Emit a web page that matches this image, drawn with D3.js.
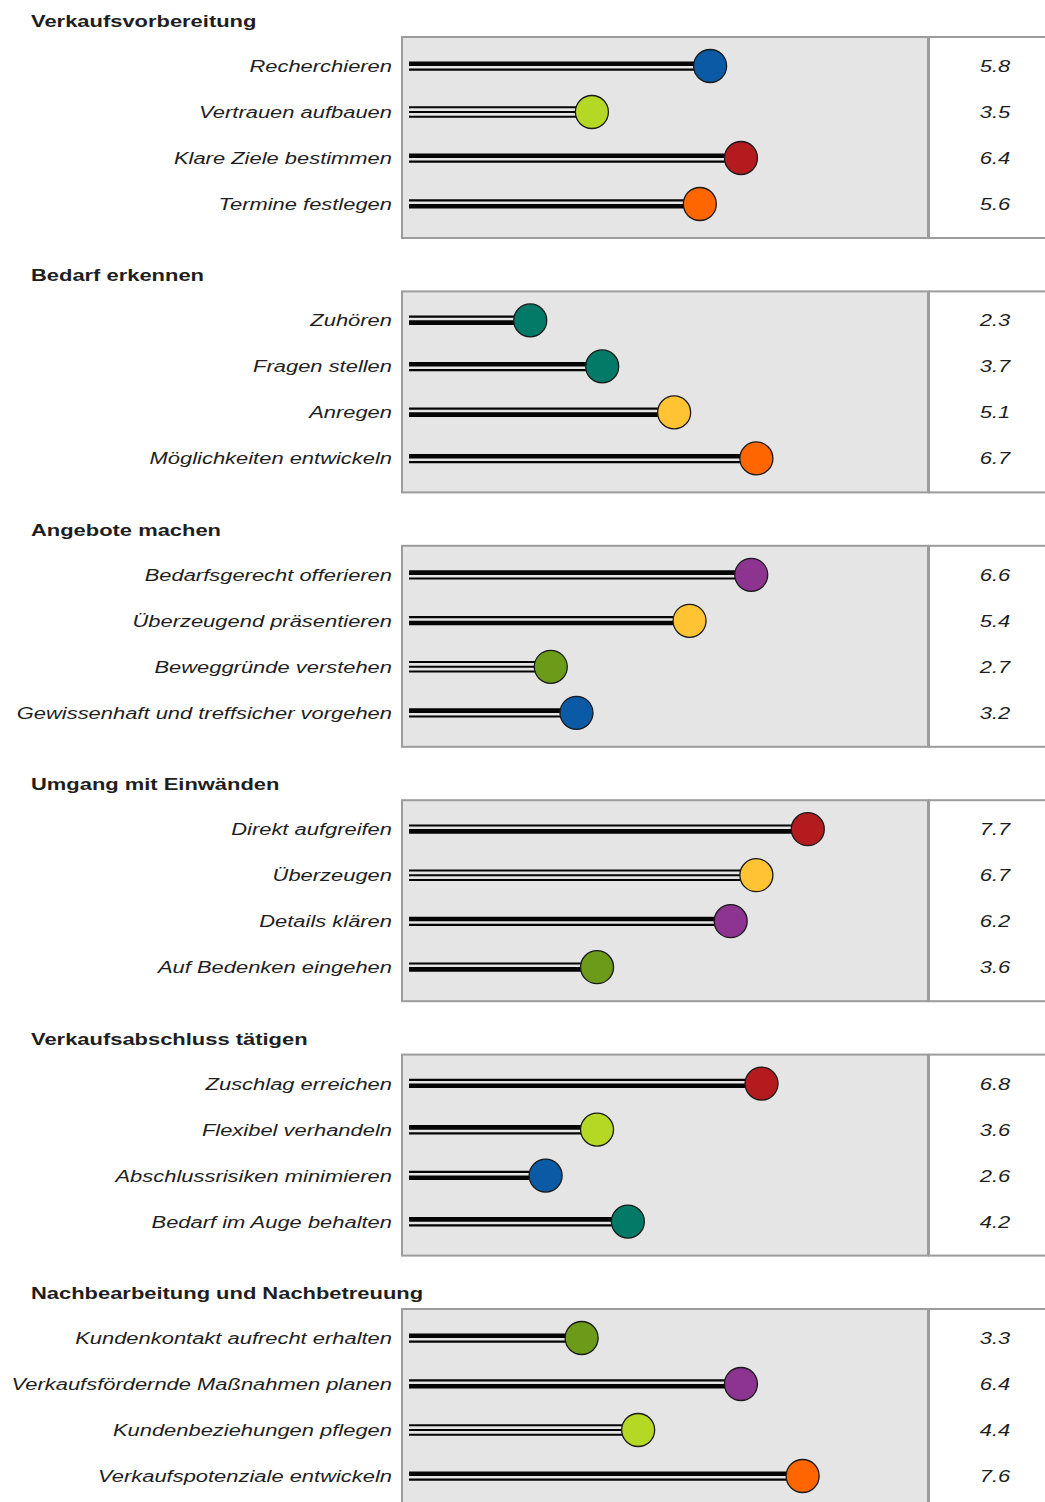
<!DOCTYPE html>
<html>
<head>
<meta charset="utf-8">
<script src="https://cdn.jsdelivr.net/npm/d3@7"></script>
<style>
  body { margin: 0; background: #fff; }
  text { font-family: "Liberation Sans", Arial, sans-serif; fill: #1e1e1e; }
</style>
</head>
<body>
<div id="chart"></div>
<script>
const width = 1045;
const height = 1502;

// chart data
const groups = [
    "Verkaufsvorbereitung",
    "Bedarf erkennen",
    "Angebote machen",
    "Umgang mit Einwänden",
    "Verkaufsabschluss tätigen",
    "Nachbearbeitung und Nachbetreuung"
];

const labels = [
    "Recherchieren", "Vertrauen aufbauen", "Klare Ziele bestimmen", "Termine festlegen",
    "Zuhören", "Fragen stellen", "Anregen", "Möglichkeiten entwickeln",
    "Bedarfsgerecht offerieren", "Überzeugend präsentieren", "Beweggründe verstehen", "Gewissenhaft und treffsicher vorgehen",
    "Direkt aufgreifen", "Überzeugen", "Details klären", "Auf Bedenken eingehen",
    "Zuschlag erreichen", "Flexibel verhandeln", "Abschlussrisiken minimieren", "Bedarf im Auge behalten",
    "Kundenkontakt aufrecht erhalten", "Verkaufsfördernde Maßnahmen planen", "Kundenbeziehungen pflegen", "Verkaufspotenziale entwickeln"
];

const values = [
    5.8, 3.5, 6.4, 5.6,
    2.3, 3.7, 5.1, 6.7,
    6.6, 5.4, 2.7, 3.2,
    7.7, 6.7, 6.2, 3.6,
    6.8, 3.6, 2.6, 4.2,
    3.3, 6.4, 4.4, 7.6
];

const dotColors = [
    "blue", "lime", "red", "orange",
    "teal", "teal", "yellow", "orange",
    "purple", "yellow", "olive", "blue",
    "red", "yellow", "purple", "olive",
    "red", "lime", "blue", "teal",
    "olive", "purple", "lime", "orange"
];

// A = thick over thin, B = thin over thick, C = three thin lines
const lineStyles = [
    "A", "C", "A", "B",
    "B", "A", "B", "A",
    "A", "B", "C", "A",
    "B", "C", "A", "B",
    "B", "A", "B", "A",
    "A", "B", "C", "A"
];

const palette = {
    blue: "#0b5aa6",
    lime: "#b4d824",
    red: "#b31b1e",
    orange: "#ff6600",
    teal: "#037a68",
    yellow: "#ffc333",
    purple: "#8d3490",
    olive: "#6b9b19"
};

const rows = labels.map((d, i) => ({
    label: d,
    value: values[i],
    color: palette[dotColors[i]],
    style: lineStyles[i],
    group: groups[Math.floor(i / 4)],
    idx: i % 4
}));

const stretch = 1.29;     // text in the picture is drawn wide
const fontSize = 17;
const boxLeft = 402, boxRight = 928, lineStart = 409;

let svg = d3.select("#chart").append("svg")
    .attr("width", width)
    .attr("height", height);

let panelY = d3.scaleBand()
    .domain(groups)
    .range([0, 254.4 * groups.length]);

let x = d3.scaleLinear()
    .domain([0, 10])
    .range([412, 926]);

let y = d3.scalePoint()
    .domain([0, 1, 2, 3])
    .range([66, 204]);

let panels = svg.selectAll("g.panel")
    .data(groups)
    .join("g")
    .attr("class", "panel")
    .attr("transform", d => `translate(0,${panelY(d)})`);

// panel title
panels.append("text")
    .attr("text-anchor", "start")
    .style("font-weight", "bold")
    .style("font-size", fontSize + "px")
    .attr("transform", `translate(31,27) scale(${stretch},1)`)
    .text(d => d);

// gray plot box and white value box
panels.append("rect")
    .attr("x", boxLeft)
    .attr("y", 37)
    .attr("width", boxRight - boxLeft)
    .attr("height", 201)
    .attr("fill", "#e5e5e5")
    .attr("stroke", "#9c9c9c")
    .attr("stroke-width", 2);

panels.append("rect")
    .attr("x", boxRight + 1)
    .attr("y", 37)
    .attr("width", 130)
    .attr("height", 201)
    .attr("fill", "#fff")
    .attr("stroke", "#9c9c9c")
    .attr("stroke-width", 2);

let items = panels.selectAll("g.item")
    .data(g => rows.filter(r => r.group === g))
    .join("g")
    .attr("class", "item")
    .attr("transform", d => `translate(0,${y(d.idx)})`);

// item labels
items.append("text")
    .attr("text-anchor", "end")
    .style("font-style", "italic")
    .style("font-size", fontSize + "px")
    .attr("transform", `translate(392,6) scale(${stretch},1)`)
    .text(d => d.label);

// value column
items.append("text")
    .attr("text-anchor", "middle")
    .style("font-style", "italic")
    .style("font-size", fontSize + "px")
    .attr("transform", `translate(995,6) scale(${stretch},1)`)
    .text(d => d3.format(".1f")(d.value));

// stem lines
function stemLines(style) {
    if (style === "A") return [{ dy: -2.2, w: 4.6 }, { dy: 3.7, w: 2.2 }];
    if (style === "B") return [{ dy: -3.7, w: 2.2 }, { dy: 2.2, w: 4.6 }];
    return [{ dy: -4.7, w: 2 }, { dy: 0, w: 2 }, { dy: 4.7, w: 2 }];
}

items.selectAll("line")
    .data(d => stemLines(d.style).map(s => ({ ...s, value: d.value })))
    .join("line")
    .attr("x1", lineStart)
    .attr("x2", d => x(d.value))
    .attr("y1", d => d.dy)
    .attr("y2", d => d.dy)
    .attr("stroke", "#050505")
    .attr("stroke-width", d => d.w);

// dots
items.append("circle")
    .attr("cx", d => x(d.value))
    .attr("cy", 0)
    .attr("r", 16.5)
    .attr("fill", d => d.color)
    .attr("stroke", "#1a1a1a")
    .attr("stroke-width", 1.3);
</script>
</body>
</html>
